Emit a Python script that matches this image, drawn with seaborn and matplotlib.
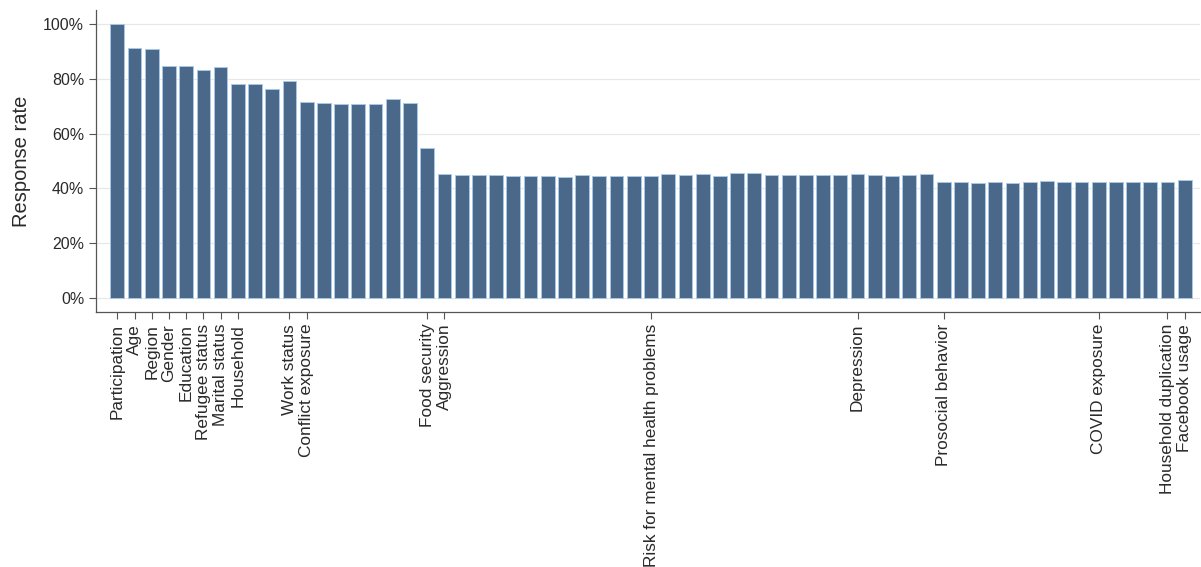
import numpy as np
import pandas as pd
import matplotlib
matplotlib.use("Agg")
import matplotlib.pyplot as plt
from matplotlib.ticker import PercentFormatter
import seaborn as sns


# Response rate per survey item (in %), in questionnaire order
response_rate = [
    100.0, 91.3, 90.9, 84.6, 84.6, 83.2, 84.4, 78.1, 78.0, 76.4,
    79.3, 71.4, 71.3, 70.8, 70.8, 70.8, 72.6, 71.3, 54.6, 45.2,
    44.9, 44.9, 44.8, 44.6, 44.6, 44.6, 44.3, 44.8, 44.4, 44.4,
    44.5, 44.6, 45.2, 44.8, 45.1, 44.5, 45.5, 45.5, 44.8, 44.8,
    44.8, 44.8, 44.8, 45.1, 45.0, 44.4, 45.0, 45.1, 42.5, 42.5,
    42.1, 42.5, 42.1, 42.4, 42.6, 42.2, 42.4, 42.5, 42.5, 42.5,
    42.5, 42.5, 43.2,
]

# Only the first item of each question block gets a label
block_start = [0, 1, 2, 3, 4, 5, 6, 7, 10, 11, 18, 19, 31, 43, 48, 57, 61, 62]
block_names = [
    "Participation", "Age", "Region", "Gender", "Education", "Refugee status",
    "Marital status", "Household", "Work status", "Conflict exposure",
    "Food security", "Aggression", "Risk for mental health problems",
    "Depression", "Prosocial behavior", "COVID exposure",
    "Household duplication", "Facebook usage",
]

y_ticks = [0, 0.2, 0.4, 0.6, 0.8, 1.0]

bar_color = "#4a6889"
edge_color = "#a8c8e6"

df = pd.DataFrame({
    "item": np.arange(len(response_rate)),
    "rate": np.array(response_rate) / 100,
})

sns.set_style("white")
plt.rcParams["font.family"] = ["Liberation Sans", "DejaVu Sans"]

fig = plt.figure(figsize=(12.01, 5.67), dpi=100)
ax = fig.add_axes([0.0799, 0.4497, 0.919, 0.5327])

sns.barplot(data=df, x="item", y="rate", color=bar_color, saturation=1,
            width=0.8, edgecolor=edge_color, linewidth=0.7, ax=ax, zorder=2)

ax.set_ylim(-0.05, 1.05)
ax.set_xlim(-1.24, 62.87)
ax.set_yticks(y_ticks)
ax.yaxis.set_major_formatter(PercentFormatter(1.0, decimals=0))
ax.grid(axis="y", color="#e8e8e8", linewidth=0.9, zorder=0)
ax.set_axisbelow(True)

ax.set_xticks(block_start)
ax.set_xticklabels(block_names, rotation=90, fontsize=12.4, color="#2a2a2a")
ax.tick_params(axis="y", labelsize=11.5, colors="#2a2a2a")
ax.tick_params(axis="both", direction="out", length=5, width=0.8,
               color="#555555", left=True, bottom=True)

ax.set_xlabel("")
ax.set_ylabel("Response rate", fontsize=14.5, color="#2a2a2a", labelpad=9)

for side in ["top", "right"]:
    ax.spines[side].set_visible(False)
for side in ["left", "bottom"]:
    ax.spines[side].set_color("#555555")
    ax.spines[side].set_linewidth(0.9)

plt.savefig("out.png", dpi=100)
